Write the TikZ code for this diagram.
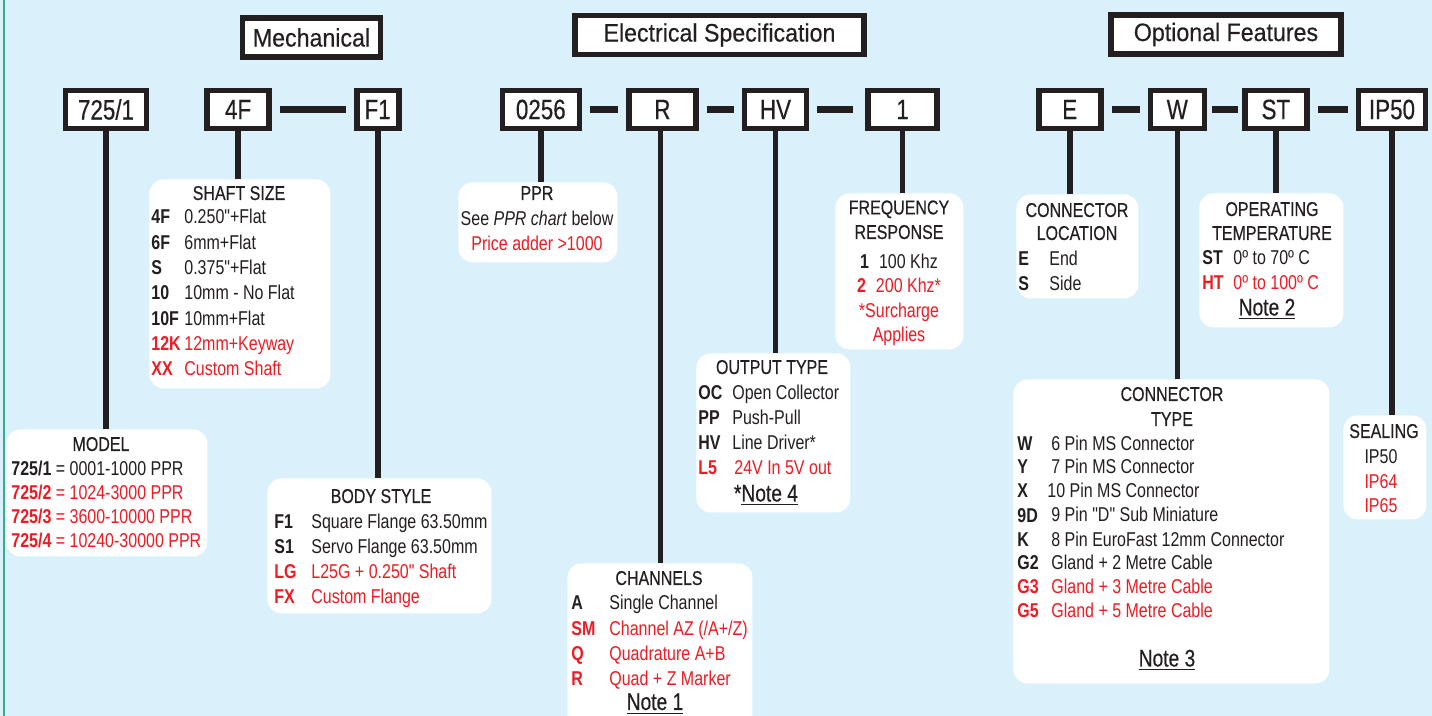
\documentclass[tikz,border=0pt]{standalone}
\usepackage{fontspec}
\setmainfont[FakeStretch=0.8, Ligatures=TeXOff]{Liberation Sans}
\newfontfamily\titlefamily[FakeStretch=0.92, FakeBold=0.4]{Liberation Sans}
\newfontfamily\headfamily[FakeStretch=0.8, FakeBold=0.4, Ligatures=TeXOff]{Liberation Sans}
\usepackage{xcolor}
\usepackage{tikz}
\usetikzlibrary{positioning}

\definecolor{ink}{HTML}{231F20}
\definecolor{specred}{HTML}{ED1C24}
\definecolor{sky}{HTML}{DAF0FB}
\definecolor{edgeline}{HTML}{3DAA8C}

\newcommand\kv[3][16.5pt]{\makebox[#1][l]{\bfseries #2}#3}
\newcommand\hot[1]{\textcolor{specred}{#1}}

\begin{document}
\begin{tikzpicture}[x=0.5pt, y=-0.5pt,
  every node/.append style={text=ink},
  codebox/.style={draw=ink, line width=2.8pt, fill=white, minimum height=19pt,
                  inner sep=0pt, font=\headfamily\fontsize{14}{16}\selectfont},
  titlebox/.style={draw=ink, line width=2.8pt, fill=white, minimum height=19.5pt,
                   inner sep=0pt, font=\titlefamily\fontsize{12.6}{15}\selectfont},
  infobox/.style={fill=white, rounded corners=7pt, anchor=north west, inner sep=0pt},
  % multi-line texts sit on the baseline of their last line
  head/.style={anchor=base, align=center, inner sep=0pt,
               font=\headfamily\fontsize{10}{#1}\selectfont},
  head/.default=12pt,
  rows/.style={anchor=base west, align=left, inner sep=0pt, font=\fontsize{10}{#1}\selectfont},
  rows/.default=12.5pt,
  vals/.style={anchor=base, align=center, inner sep=0pt, font=\fontsize{10}{#1}\selectfont},
  vals/.default=12.5pt,
  note/.style={anchor=base, inner sep=0pt, font=\headfamily\fontsize{12}{14}\selectfont},
  stem/.style={draw=ink, line width=2.8pt},
  joiner/.style={draw=ink, line width=3.2pt, shorten <=4pt, shorten >=4pt}
]
  \useasboundingbox (0,0) rectangle (1432,716);
  \fill[sky] (0,0) rectangle (1432,716);
  \draw[edgeline, line width=1pt] (4,0) -- (4,716);

  % group titles
  \node[titlebox, minimum width=69pt] (mech) at (311.5,37.5) {Mechanical};
  \node[titlebox, minimum width=144.5pt] (elec) at (719.5,35) {Electrical Specification};
  \node[titlebox, minimum width=115pt] (opt) at (1226,34.5) {Optional Features};

  % part number row
  \node[codebox, minimum width=40.5pt] (c725) at (106,109.5) {725/1};
  \node[codebox, minimum width=31pt, right=27.5pt of c725] (c4F) {4F};
  \node[codebox, minimum width=21pt, right=41pt of c4F] (cF1) {F1};
  \node[codebox, minimum width=38.5pt, right=49pt of cF1] (c0256) {0256};
  \node[codebox, minimum width=33.5pt, right=22pt of c0256] (cR) {R};
  \node[codebox, minimum width=31pt, right=21.5pt of cR] (cHV) {HV};
  \node[codebox, minimum width=34.5pt, right=28pt of cHV] (c1) {1};
  \node[codebox, minimum width=31pt, right=48pt of c1] (cE) {E};
  \node[codebox, minimum width=27pt, right=22pt of cE] (cW) {W};
  \node[codebox, minimum width=31pt, right=17.5pt of cW] (cST) {ST};
  \node[codebox, minimum width=33.5pt, right=23pt of cST] (cIP) {IP50};

  \draw[joiner] (c4F) -- (cF1);
  \draw[joiner] (c0256) -- (cR);
  \draw[joiner] (cR) -- (cHV);
  \draw[joiner, shorten >=6pt] (cHV) -- (c1);
  \draw[joiner] (cE) -- (cW);
  \draw[joiner, shorten <=2.5pt, shorten >=2pt] (cW) -- (cST);
  \draw[joiner] (cST) -- (cIP);

  % option boxes
  \node[infobox, minimum width=90.5pt, minimum height=104.5pt] (shaft) at (149,179) {};
  \node[infobox, minimum width=100.5pt, minimum height=63.5pt] (model) at (6,429) {};
  \node[infobox, minimum width=112pt, minimum height=67.5pt] (body) at (267,478) {};
  \node[infobox, minimum width=79.5pt, minimum height=40pt] (ppr) at (458,182) {};
  \node[infobox, minimum width=64pt, minimum height=78pt] (freq) at (835,193) {};
  \node[infobox, minimum width=77pt, minimum height=79.5pt] (output) at (696,353) {};
  \node[infobox, minimum width=92.5pt, minimum height=83.5pt] (channels) at (567,563) {};
  \node[infobox, minimum width=61pt, minimum height=52pt] (connloc) at (1016,194) {};
  \node[infobox, minimum width=72pt, minimum height=67pt] (optemp) at (1199,193) {};
  \node[infobox, minimum width=158pt, minimum height=152pt] (conntype) at (1013,379) {};
  \node[infobox, minimum width=41.5pt, minimum height=52pt] (sealing) at (1343,415) {};

  \draw[stem] (c725.south) -- (c725.south |- model.north);
  \draw[stem] (c4F.south) -- (c4F.south |- shaft.north);
  \draw[stem] (cF1.south) -- (cF1.south |- body.north);
  \draw[stem] (c0256.south) -- (c0256.south |- ppr.north);
  \draw[stem] ([xshift=-1pt]cR.south) -- ([xshift=-1pt]cR.south |- channels.north);
  \draw[stem] (cHV.south) -- (cHV.south |- output.north);
  \draw[stem] (c1.south) -- (c1.south |- freq.north);
  \draw[stem] (cE.south) -- (cE.south |- connloc.north);
  \draw[stem] (cW.south) -- (cW.south |- conntype.north);
  \draw[stem] (cST.south) -- (cST.south |- optemp.north);
  \draw[stem] (cIP.south) -- (cIP.south |- sealing.north);

  % box texts
  \node[head] (shaft-head) at (239,200) {SHAFT SIZE};
  \node[rows=12.67pt] (shaft-rows) at (151,376)
    {\kv{4F}{0.250"+Flat}\\ \kv{6F}{6mm+Flat}\\ \kv{S}{0.375"+Flat}\\
     \kv{10}{10mm - No Flat}\\ \kv{10F}{10mm+Flat}\\
     \hot{\kv{12K}{12mm+Keyway}}\\ \hot{\kv{XX}{Custom Shaft}}};

  \node[head] (model-head) at (101,451) {MODEL};
  \node[rows=12.15pt] (model-rows) at (11,548)
    {\textbf{725/1} = 0001-1000 PPR\\ \hot{\textbf{725/2} = 1024-3000 PPR}\\
     \hot{\textbf{725/3} = 3600-10000 PPR}\\ \hot{\textbf{725/4} = 10240-30000 PPR}};

  \node[head] (body-head) at (381,503) {BODY STYLE};
  \node[rows] (body-rows) at (274,604)
    {\kv[18.5pt]{F1}{Square Flange 63.50mm}\\ \kv[18.5pt]{S1}{Servo Flange 63.50mm}\\
     \hot{\kv[18.5pt]{LG}{L25G + 0.250" Shaft}}\\ \hot{\kv[18.5pt]{FX}{Custom Flange}}};

  \node[head] (ppr-head) at (537,200) {PPR};
  \node[vals=12.75pt] (ppr-text) at (537,251)
    {See \textit{PPR chart} below\\ \hot{Price adder >1000}};

  \node[head=12.3pt] (freq-head) at (899,239) {FREQUENCY\\ RESPONSE};
  \node[vals=12.3pt] (freq-text) at (899,342)
    {\textbf{1}\enspace 100 Khz\\ \hot{\textbf{2}\enspace 200 Khz*}\\
     \hot{*Surcharge}\\ \hot{Applies}};

  \node[head] (output-head) at (772,374) {OUTPUT TYPE};
  \node[rows] (output-rows) at (698,475)
    {\kv[17pt]{OC}{Open Collector}\\ \kv[17pt]{PP}{Push-Pull}\\ \kv[17pt]{HV}{Line Driver*}\\
     \hot{\kv[18pt]{L5}{24V In 5V out}}};
  \node[note] (note4) at (766,501.5) {*\underline{Note 4}};

  \node[head] (channels-head) at (659,585) {CHANNELS};
  \node[rows=12.67pt] (channels-rows) at (571,686)
    {\kv[19pt]{A}{Single Channel}\\ \hot{\kv[19pt]{SM}{Channel AZ (/A+/Z)}}\\
     \hot{\kv[19pt]{Q}{Quadrature A+B}}\\ \hot{\kv[19pt]{R}{Quad + Z Marker}}};
  \node[note] (note1) at (655,710) {\underline{Note 1}};

  \node[head=11.5pt] (connloc-head) at (1077,240) {CONNECTOR\\ LOCATION};
  \node[rows] (connloc-rows) at (1018,291)
    {\kv[15.5pt]{E}{End}\\ \kv[15.5pt]{S}{Side}};

  \node[head] (optemp-head) at (1272,240) {OPERATING\\ TEMPERATURE};
  \node[rows] (optemp-rows) at (1202,290)
    {\kv[15.5pt]{ST}{0º to 70º C}\\ \hot{\kv[15.5pt]{HT}{0º to 100º C}}};
  \node[note] (note2) at (1267,315.5) {\underline{Note 2}};

  \node[head=12.5pt] (conntype-head) at (1172,426) {CONNECTOR\\ TYPE};
  \node[rows=12pt] (conntype-rows) at (1017,618)
    {\kv[17pt]{W}{6 Pin MS Connector}\\ \kv[17pt]{Y}{7 Pin MS Connector}\\
     \kv[15pt]{X}{10 Pin MS Connector}\\ \kv[17pt]{9D}{9 Pin "D" Sub Miniature}\\
     \kv[17pt]{K}{8 Pin EuroFast 12mm Connector}\\ \kv[17pt]{G2}{Gland + 2 Metre Cable}\\
     \hot{\kv[17pt]{G3}{Gland + 3 Metre Cable}}\\ \hot{\kv[17pt]{G5}{Gland + 5 Metre Cable}}};
  \node[note] (note3) at (1167,666.5) {\underline{Note 3}};

  \node[head] (sealing-head) at (1384,438) {SEALING};
  \node[vals=12.25pt] (sealing-rows) at (1381,513) {IP50\\ \hot{IP64}\\ \hot{IP65}};
\end{tikzpicture}
\end{document}
